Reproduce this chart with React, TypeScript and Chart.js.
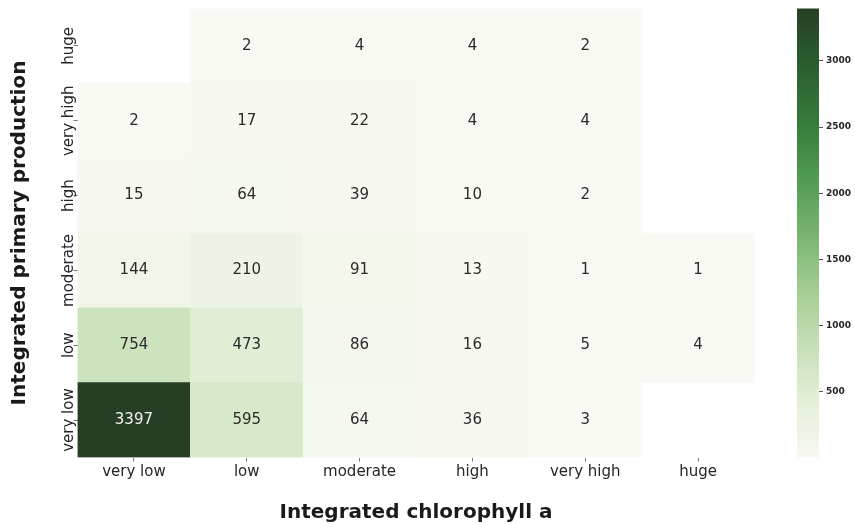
import React, { useEffect, useRef } from "react";
import { Chart, registerables } from "chart.js";

Chart.register(...registerables);

// Columns (x): Integrated chlorophyll a
const chlorophyllLabels = ["very low", "low", "moderate", "high", "very high", "huge"];
// Rows (y), from bottom to top: Integrated primary production
const productionLabels = ["very low", "low", "moderate", "high", "very high", "huge"];

// Counts per row, one value per chlorophyll class (null = empty cell)
const rowVeryLow: (number | null)[] = [3397, 595, 64, 36, 3, null];
const rowLow: (number | null)[] = [754, 473, 86, 16, 5, 4];
const rowModerate: (number | null)[] = [144, 210, 91, 13, 1, 1];
const rowHigh: (number | null)[] = [15, 64, 39, 10, 2, null];
const rowVeryHigh: (number | null)[] = [2, 17, 22, 4, 4, null];
const rowHuge: (number | null)[] = [null, 2, 4, 4, 2, null];

const colorbarTicks = [500, 1000, 1500, 2000, 2500, 3000];
const colorMin = 1;
const colorMax = 3397;

const rows = [rowVeryLow, rowLow, rowModerate, rowHigh, rowVeryHigh, rowHuge];

// Greens-like colour map (as it appears in the reference)
const CMAP: [number, number[]][] = [
  [0, [248, 249, 242]],
  [0.125, [228, 239, 216]],
  [0.25, [198, 223, 182]],
  [0.375, [163, 204, 146]],
  [0.5, [120, 180, 110]],
  [0.625, [80, 154, 80]],
  [0.75, [53, 122, 59]],
  [0.875, [42, 94, 47]],
  [1, [38, 63, 36]],
];

function rgbAt(t: number): number[] {
  const tt = Math.max(0, Math.min(1, t));
  for (let i = 1; i < CMAP.length; i++) {
    const [t1, c1] = CMAP[i];
    const [t0, c0] = CMAP[i - 1];
    if (tt <= t1) {
      const f = (tt - t0) / (t1 - t0);
      return c0.map((c, k) => Math.round(c + (c1[k] - c) * f));
    }
  }
  return CMAP[CMAP.length - 1][1];
}
function colorFor(v: number): string {
  const c = rgbAt((v - colorMin) / (colorMax - colorMin));
  return `rgb(${c[0]},${c[1]},${c[2]})`;
}
function textColorFor(v: number): string {
  const c = rgbAt((v - colorMin) / (colorMax - colorMin)).map((x) => {
    const s = x / 255;
    return s <= 0.03928 ? s / 12.92 : Math.pow((s + 0.055) / 1.055, 2.4);
  });
  const lum = 0.2126 * c[0] + 0.7152 * c[1] + 0.0722 * c[2];
  return lum < 0.408 ? "#f2f2f2" : "#2b2b2b";
}

const FONT = '"DejaVu Sans", "Liberation Sans", sans-serif';

const cellLabels = {
  id: "cellLabels",
  afterDatasetsDraw(chart: any) {
    const ctx = chart.ctx;
    ctx.save();
    ctx.font = `15px ${FONT}`;
    ctx.textAlign = "center";
    ctx.textBaseline = "middle";
    rows.forEach((vals, r) => {
      const meta = chart.getDatasetMeta(r);
      vals.forEach((v, i) => {
        if (v == null) return;
        const el = meta.data[i];
        const p = el.getCenterPoint();
        ctx.fillStyle = textColorFor(v);
        ctx.fillText(String(v), p.x, p.y);
      });
    });
    ctx.restore();
  },
};

const yTickLabels = {
  id: "yTickLabels",
  afterDraw(chart: any) {
    const ctx = chart.ctx;
    const ys = chart.scales.y;
    ctx.save();
    ctx.font = `15px ${FONT}`;
    ctx.fillStyle = "#262626";
    ctx.textAlign = "center";
    ctx.textBaseline = "alphabetic";
    ys.ticks.forEach((t: any, i: number) => {
      const y = ys.getPixelForValue(t.value);
      ctx.save();
      ctx.translate(ys.right - 5, y);
      ctx.rotate(-Math.PI / 2);
      ctx.fillText(productionLabels[i], 0, 0);
      ctx.restore();
    });
    ctx.restore();
  },
};

const colorbar = {
  id: "colorbar",
  afterDraw(chart: any) {
    const ctx = chart.ctx;
    const cb = chart.scales.cb;
    const yTop = cb.getPixelForValue(colorMax);
    const yBot = cb.getPixelForValue(colorMin);
    const w = 22;
    const g = ctx.createLinearGradient(0, yBot, 0, yTop);
    for (let k = 0; k <= 40; k++) {
      const t = k / 40;
      const c = rgbAt(t);
      g.addColorStop(t, `rgb(${c[0]},${c[1]},${c[2]})`);
    }
    ctx.save();
    ctx.fillStyle = g;
    ctx.fillRect(cb.left - w, yTop, w, yBot - yTop);
    ctx.restore();
  },
};

export default function App() {
  const ref = useRef<HTMLCanvasElement | null>(null);

  useEffect(() => {
    if (!ref.current) return;
    const chart = new Chart(ref.current, {
      type: "bar",
      data: {
        labels: chlorophyllLabels,
        datasets: rows.map((vals, r) => ({
          label: productionLabels[r],
          data: vals.map((v) => (v == null ? null : [r, r + 1])) as any,
          backgroundColor: vals.map((v) => (v == null ? "rgba(0,0,0,0)" : colorFor(v))),
          borderWidth: 0,
          grouped: false,
          barPercentage: 1,
          categoryPercentage: 1,
          xAxisID: "x",
          yAxisID: "y",
        })),
      },
      options: {
        responsive: false,
        animation: false,
        events: [],
        layout: { padding: { top: 8.5, left: 0, right: 0, bottom: 0 } },
        plugins: {
          legend: { display: false },
          tooltip: { enabled: false },
          title: { display: false },
        },
        scales: {
          x: {
            type: "category",
            offset: true,
            grid: { offset: false, drawOnChartArea: false, drawTicks: true, tickLength: 4, color: "#777" },
            border: { display: false },
            ticks: { font: { family: FONT, size: 15 }, color: "#262626", padding: 2, maxRotation: 0 },
            title: {
              display: true,
              text: "Integrated chlorophyll a",
              font: { family: FONT, size: 20, weight: "bold", lineHeight: 1.1 },
              color: "#1a1a1a",
              padding: { top: 0, bottom: 0 },
            },
            afterFit: (s: any) => {
              s.height = 66.5;
            },
          },
          y: {
            type: "linear",
            position: "left",
            min: 0,
            max: productionLabels.length,
            afterBuildTicks: (s: any) => {
              s.ticks = productionLabels.map((_, i) => ({ value: i + 0.5 }));
            },
            grid: { drawOnChartArea: false, drawTicks: true, tickLength: 4, color: "#777" },
            border: { display: false },
            ticks: { display: false },
            title: {
              display: true,
              text: "Integrated primary production",
              font: { family: FONT, size: 20, weight: "bold", lineHeight: 1.1 },
              color: "#1a1a1a",
              padding: { top: 9, bottom: 0 },
            },
            afterFit: (s: any) => {
              s.width = 77.5;
            },
          },
          spacer: {
            type: "linear",
            position: "right",
            weight: 0,
            display: true,
            grid: { display: false, drawTicks: false },
            border: { display: false },
            ticks: { display: false },
            afterFit: (s: any) => {
              s.width = 64.5;
            },
          },
          cb: {
            type: "linear",
            position: "right",
            weight: 1,
            min: colorMin,
            max: colorMax,
            afterBuildTicks: (s: any) => {
              s.ticks = colorbarTicks.map((v) => ({ value: v }));
            },
            grid: { drawOnChartArea: false, drawTicks: true, tickLength: 4, color: "#555" },
            border: { display: false },
            ticks: {
              font: { family: FONT, size: 9, weight: "bold" },
              color: "#262626",
              padding: 3,
              callback: (v: any) => String(v),
            },
            afterFit: (s: any) => {
              s.width = 36;
            },
          },
        } as any,
      },
      plugins: [cellLabels, yTickLabels, colorbar],
    });
    return () => chart.destroy();
  }, []);

  return (
    <div style={{ position: "fixed", left: 0, top: 0, width: 855, height: 524, background: "#fff" }}>
      <canvas ref={ref} width={855} height={524} style={{ display: "block", width: 855, height: 524 }} />
    </div>
  );
}
